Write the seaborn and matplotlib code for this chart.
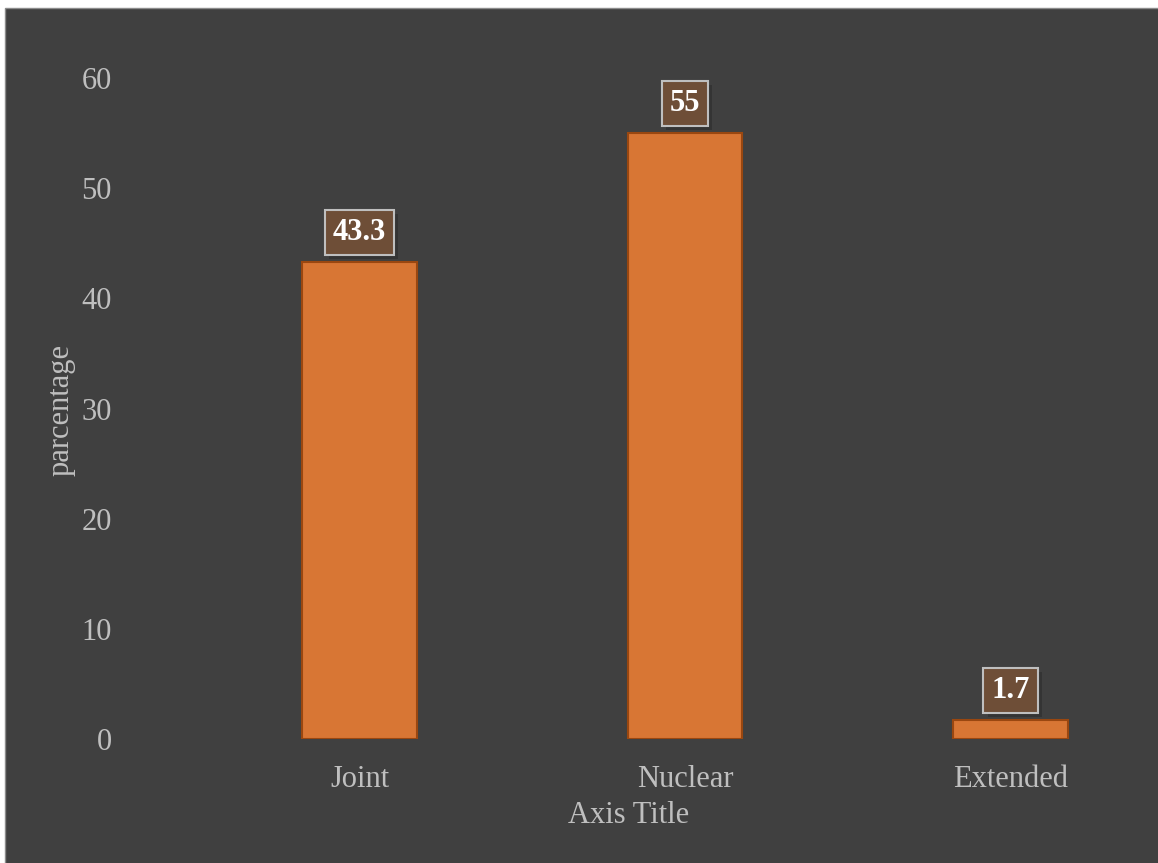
import matplotlib
matplotlib.use("Agg")
import matplotlib.pyplot as plt
import matplotlib.patheffects as pe
from matplotlib.patches import Rectangle
import seaborn as sns
import pandas as pd

categories = ["Joint", "Nuclear", "Extended"]
values = [43.3, 55, 1.7]
value_labels = ["43.3", "55", "1.7"]
y_ticks = [0, 10, 20, 30, 40, 50, 60]

BG = "#404040"
BAR = "#D87634"
BAR_EDGE = "#9A4710"
BOX_FC = "#6E4E37"
BOX_EC = "#BFBFBF"
TXT = "#BFBFBF"

sns.set_theme(style="white")
plt.rcParams["font.family"] = ["Liberation Serif", "DejaVu Serif"]

W, H = 1158, 863
FS = 22
fig = plt.figure(figsize=(W / 100, H / 100), dpi=100, facecolor="white")
fig.patches.append(Rectangle((5 / W, -0.01), 1.0, (H - 8) / H + 0.01, transform=fig.transFigure,
                             facecolor=BG, edgecolor="#8C8C8C", linewidth=1.0, zorder=-10))

left, right = 127, 1130
bottom_px, top_px = 739, 23
ax = fig.add_axes([left / W, (H - bottom_px) / H, (right - left) / W, (bottom_px - top_px) / H])
ax.set_facecolor("none")
ax.set_zorder(5)

df = pd.DataFrame({"category": categories, "value": values})
sns.barplot(data=df, x="category", y="value", color=BAR, width=0.353, edgecolor=BAR_EDGE,
            linewidth=1.5, saturation=1, ax=ax)

ax.set_xlim(-(359.5 - left) / 325.5, 2 + (right - 1010.5) / 325.5)
ax.set_ylim(0, 65)
ax.set_yticks(y_ticks)
ax.set_yticklabels([str(t) for t in y_ticks])

for s in ax.spines.values():
    s.set_visible(False)
ax.grid(False)
ax.tick_params(axis="y", length=0, pad=11, labelsize=FS, labelcolor=TXT)
ax.tick_params(axis="x", length=0, pad=19, labelsize=FS, labelcolor=TXT)

ax.set_xlabel("Axis Title", fontsize=FS, color=TXT, labelpad=5)
ax.set_ylabel("parcentage", fontsize=FS, color=TXT)
ax.yaxis.set_label_coords(-0.051, 0.459)

for i, (v, lab) in enumerate(zip(values, value_labels)):
    ann = ax.annotate(lab, xy=(i, v), xytext=(0, 21.5), textcoords="offset points",
                      ha="center", va="center", fontsize=FS, fontweight="bold", color="white",
                      bbox=dict(boxstyle="square,pad=0.26", fc=BOX_FC, ec=BOX_EC, lw=1.5))
    ann.get_bbox_patch().set_path_effects(
        [pe.SimplePatchShadow(offset=(3, -3), shadow_rgbFace="black", alpha=0.18), pe.Normal()])

fig.savefig("out.png", dpi=100, facecolor=fig.get_facecolor())
